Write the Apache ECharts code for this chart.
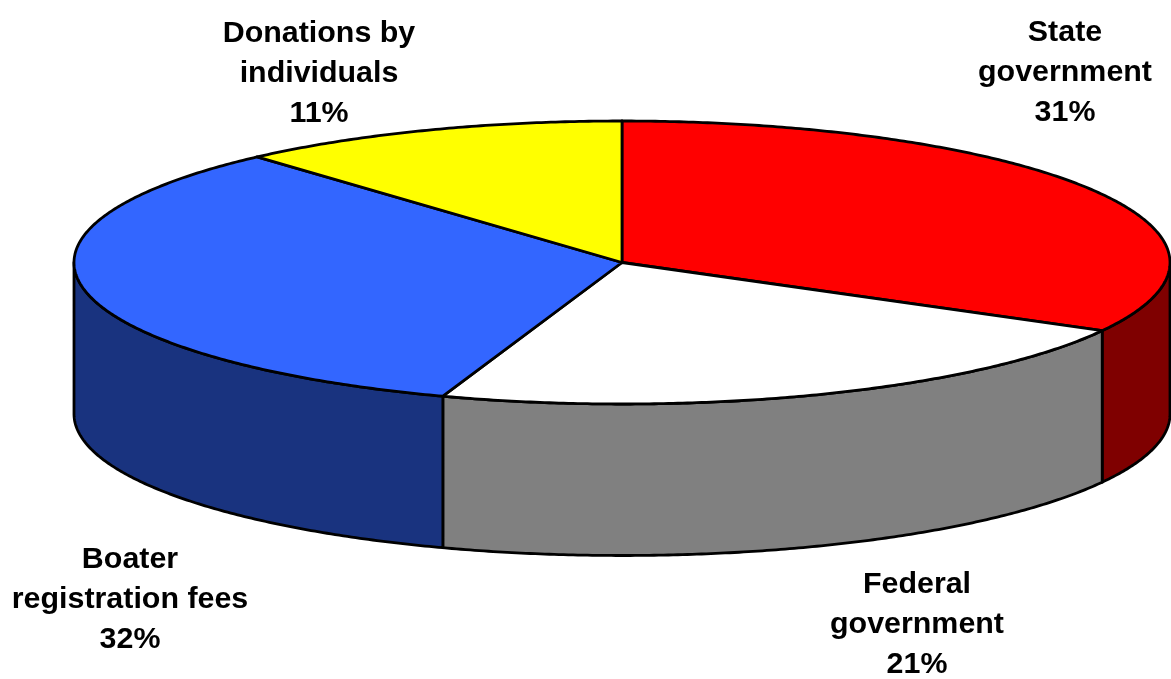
<!DOCTYPE html>
<html>
<head>
<meta charset="utf-8">
<style>html,body{margin:0;padding:0;background:#fff}#c{width:1171px;height:679px}</style>
<script src="https://cdn.jsdelivr.net/npm/echarts@6/dist/echarts.min.js"></script>
</head>
<body>
<div id="c"></div>
<script>
// Data
const categories = ['State\ngovernment', 'Federal\ngovernment', 'Boater\nregistration fees', 'Donations by\nindividuals'];
// Percentages printed on the chart (they add up to 95)
const labelPercents = [31, 21, 32, 11];
// Slice sizes as read from the drawn wedges
const sliceSizes = [33.0, 22.3, 33.1, 11.6];

// Styles and layout
const topColors = ['#ff0000', '#ffffff', '#3366ff', '#ffff00'];
const sideColors = ['#7f0000', '#808080', '#19337f', '#7f7f00'];
const labelCenters = [[1065, 73], [917, 625], [130, 600], [319, 74]];
const CX = 622, CY = 262.5, RX = 548, RY = 141.5, DEPTH = 151.5, LINE = 2.8;

const total = sliceSizes.reduce((a, b) => a + b, 0);
function startAngle(i) {
  let s = 0;
  for (let k = 0; k < i; k++) s += sliceSizes[k];
  return s / total * 360;
}
function pt(deg, dy) {
  const r = deg * Math.PI / 180;
  return [CX + RX * Math.sin(r), CY - RY * Math.cos(r) + (dy || 0)];
}
function arc(a, b, dy) {
  const out = [], n = Math.max(2, Math.ceil(Math.abs(b - a) * 2));
  for (let j = 0; j <= n; j++) out.push(pt(a + (b - a) * j / n, dy));
  return out;
}
const stroke = { stroke: '#000', lineWidth: LINE, lineJoin: 'round' };

const chart = echarts.init(document.getElementById('c'), null, { renderer: 'canvas' });
chart.setOption({
  animation: false,
  backgroundColor: '#fff',
  series: [
    {
      type: 'custom', coordinateSystem: 'none', silent: true, z: 1, clip: false,
      data: sliceSizes,
      renderItem(params) {
        const i = params.dataIndex;
        const a = Math.max(startAngle(i), 90);
        const b = Math.min(startAngle(i + 1), 270);
        if (b <= a) return { type: 'group', children: [] };
        const pts = arc(a, b, 0).concat(arc(b, a, DEPTH));
        return {
          type: 'polygon',
          shape: { points: pts },
          style: Object.assign({ fill: sideColors[i] }, stroke)
        };
      }
    },
    {
      type: 'custom', coordinateSystem: 'none', silent: true, z: 2, clip: false,
      data: sliceSizes,
      renderItem(params) {
        const i = params.dataIndex;
        const pts = [[CX, CY]].concat(arc(startAngle(i), startAngle(i + 1), 0));
        return {
          type: 'group',
          children: [
            {
              type: 'polygon',
              shape: { points: pts },
              style: Object.assign({ fill: topColors[i] }, stroke)
            },
            {
              type: 'text',
              x: labelCenters[i][0],
              y: labelCenters[i][1],
              style: {
                text: categories[i] + '\n' + labelPercents[i] + '%',
                fill: '#000',
                font: 'bold 30.4px "Liberation Sans", Arial, sans-serif',
                lineHeight: 40,
                align: 'center',
                verticalAlign: 'middle'
              }
            }
          ]
        };
      }
    }
  ]
});
</script>
</body>
</html>
